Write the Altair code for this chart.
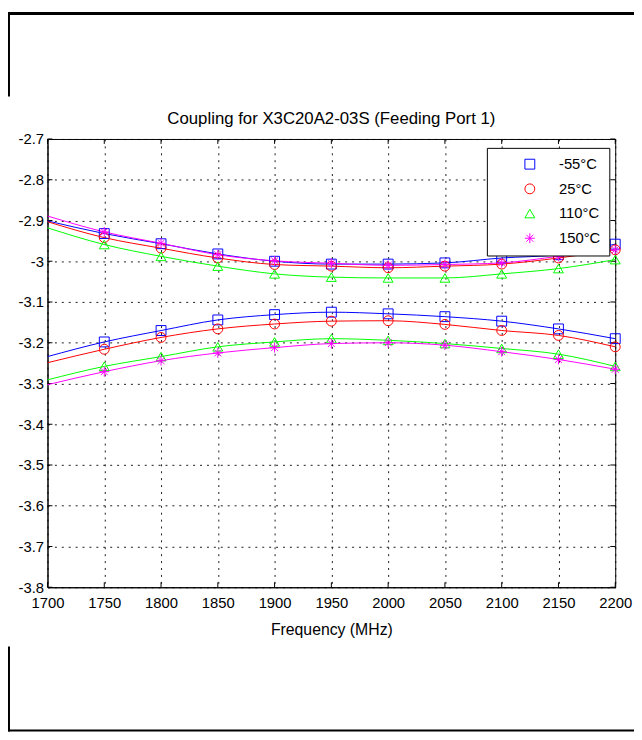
import altair as alt
import pandas as pd

# ---- data ----
freqs = [1700, 1750, 1800, 1850, 1900, 1950, 2000, 2050, 2100, 2150, 2200]
temps = ["-55°C", "25°C", "110°C", "150°C"]
colors = ["#0000ff", "#ff0000", "#00ff00", "#ff00ff"]

upper_m55 = [-2.901, -2.932, -2.957, -2.982, -3.000, -3.007, -3.007, -3.004, -2.992, -2.984, -2.958]
upper_25 = [-2.903, -2.942, -2.968, -2.992, -3.008, -3.012, -3.016, -3.012, -3.007, -2.992, -2.972]
upper_110 = [-2.918, -2.959, -2.988, -3.012, -3.031, -3.039, -3.041, -3.041, -3.031, -3.018, -2.996]
upper_150 = [-2.889, -2.928, -2.956, -2.984, -2.999, -3.005, -3.010, -3.008, -3.004, -2.988, -2.972]

lower_m55 = [-3.234, -3.198, -3.170, -3.144, -3.131, -3.125, -3.129, -3.136, -3.147, -3.166, -3.190]
lower_25 = [-3.249, -3.216, -3.187, -3.166, -3.154, -3.147, -3.146, -3.155, -3.170, -3.182, -3.210]
lower_110 = [-3.291, -3.258, -3.234, -3.210, -3.198, -3.190, -3.194, -3.202, -3.214, -3.228, -3.258]
lower_150 = [-3.303, -3.271, -3.244, -3.225, -3.212, -3.202, -3.200, -3.206, -3.222, -3.241, -3.265]

x_ticks = [1700, 1750, 1800, 1850, 1900, 1950, 2000, 2050, 2100, 2150, 2200]
y_ticks = [-3.8, -3.7, -3.6, -3.5, -3.4, -3.3, -3.2, -3.1, -3.0, -2.9, -2.8, -2.7]

title_text = "Coupling for X3C20A2-03S (Feeding Port 1)"
x_title = "Frequency (MHz)"

# ---- build table ----
series = {
    ("upper", temps[0]): upper_m55,
    ("upper", temps[1]): upper_25,
    ("upper", temps[2]): upper_110,
    ("upper", temps[3]): upper_150,
    ("lower", temps[0]): lower_m55,
    ("lower", temps[1]): lower_25,
    ("lower", temps[2]): lower_110,
    ("lower", temps[3]): lower_150,
}
rows = []
for (grp, t), vals in series.items():
    for f, v in zip(freqs, vals):
        rows.append({"freq": f, "value": v, "temp": t, "series": grp + t})
df = pd.DataFrame(rows)
df_pts = df[df["freq"] >= 1750]

star = "M-1,0L1,0M0,-1L0,1M-0.7,-0.7L0.7,0.7M-0.7,0.7L0.7,-0.7"

W, H = 575, 454

xs = alt.Scale(domain=[1700, 2200], nice=False, zero=False)
ys = alt.Scale(domain=[-3.8, -2.7], nice=False, zero=False)
cs = alt.Scale(domain=temps, range=colors)
ss = alt.Scale(domain=temps, range=["square", "circle", "triangle-up", star])

xaxis = alt.Axis(values=x_ticks, format="d", title=x_title, grid=True, labelFlush=False,
                 labelOverlap=False, ticks=False, tickSize=0, labelPadding=9, titlePadding=11)
yaxis = alt.Axis(values=y_ticks, labelExpr="'' + datum.value", title=None, grid=True,
                 labelFlush=False, labelOverlap=False,
                 ticks=False, tickSize=0, labelPadding=4)

leg = alt.Legend(title=None, orient="none", legendX=445, legendY=9)

lines = alt.Chart(df).mark_line(strokeWidth=1, interpolate="monotone").encode(
    x=alt.X("freq:Q", scale=xs, axis=xaxis),
    y=alt.Y("value:Q", scale=ys, axis=yaxis),
    color=alt.Color("temp:N", scale=cs, sort=temps, legend=leg),
    detail="series:N",
)

points = alt.Chart(df_pts).mark_point(filled=False, strokeWidth=1, size=100, opacity=1).encode(
    x=alt.X("freq:Q", scale=xs),
    y=alt.Y("value:Q", scale=ys),
    color=alt.Color("temp:N", scale=cs, sort=temps, legend=leg),
    shape=alt.Shape("temp:N", scale=ss, sort=temps, legend=leg),
)

xt = pd.DataFrame({"t": x_ticks})
yt = pd.DataFrame({"t": y_ticks})
tick_top = alt.Chart(xt).mark_rule(color="black", strokeWidth=1).encode(
    x=alt.X("t:Q", scale=xs), y=alt.value(0), y2=alt.value(5))
tick_bot = alt.Chart(xt).mark_rule(color="black", strokeWidth=1).encode(
    x=alt.X("t:Q", scale=xs), y=alt.value(H), y2=alt.value(H - 5))
tick_left = alt.Chart(yt).mark_rule(color="black", strokeWidth=1).encode(
    y=alt.Y("t:Q", scale=ys), x=alt.value(0), x2=alt.value(5))
tick_right = alt.Chart(yt).mark_rule(color="black", strokeWidth=1).encode(
    y=alt.Y("t:Q", scale=ys), x=alt.value(W), x2=alt.value(W - 5))

one = pd.DataFrame({"a": [0]})
frame_top = alt.Chart(one).mark_rule(color="black", strokeWidth=3).encode(
    x=alt.value(-40), x2=alt.value(600), y=alt.value(-127))
frame_left1 = alt.Chart(one).mark_rule(color="black", strokeWidth=2).encode(
    x=alt.value(-39), y=alt.value(-128), y2=alt.value(-43))
frame_left2 = alt.Chart(one).mark_rule(color="black", strokeWidth=2).encode(
    x=alt.value(-39), y=alt.value(514), y2=alt.value(600))
frame_bot = alt.Chart(one).mark_rule(color="black", strokeWidth=2).encode(
    x=alt.value(-40), x2=alt.value(600), y=alt.value(599))

title_df = pd.DataFrame({"label": [title_text]})
title_mark = alt.Chart(title_df).mark_text(
    font="Liberation Sans", fontSize=17, color="black", align="center", baseline="alphabetic"
).encode(text="label:N", x=alt.value(W / 2), y=alt.value(-15))

chart = alt.layer(
    frame_top, frame_left1, frame_left2, frame_bot,
    tick_top, tick_bot, tick_left, tick_right,
    lines, points, title_mark,
).properties(
    width=W, height=H,
    background="white",
    padding={"left": 40, "top": 128, "right": 19, "bottom": 148},
    autosize=alt.AutoSizeParams(type="none"),
).configure_view(
    stroke="black", strokeWidth=1
).configure_axis(
    labelFont="Liberation Sans", labelFontSize=15, labelColor="black",
    titleFont="Liberation Sans", titleFontSize=16, titleColor="black", titleFontWeight="normal",
    domainColor="black", domainWidth=1,
    gridColor="black", gridDash=[2, 5], gridWidth=1, gridOpacity=0.9,
).configure_legend(
    labelFont="Liberation Sans", labelFontSize=15, labelColor="black",
    strokeColor="black", fillColor="white", padding=9,
    symbolSize=100, symbolStrokeWidth=1, symbolOffset=27, labelOffset=22,
    rowPadding=9, cornerRadius=0,
)

chart.save("out.html", embed_options={"renderer": "svg", "actions": False})
